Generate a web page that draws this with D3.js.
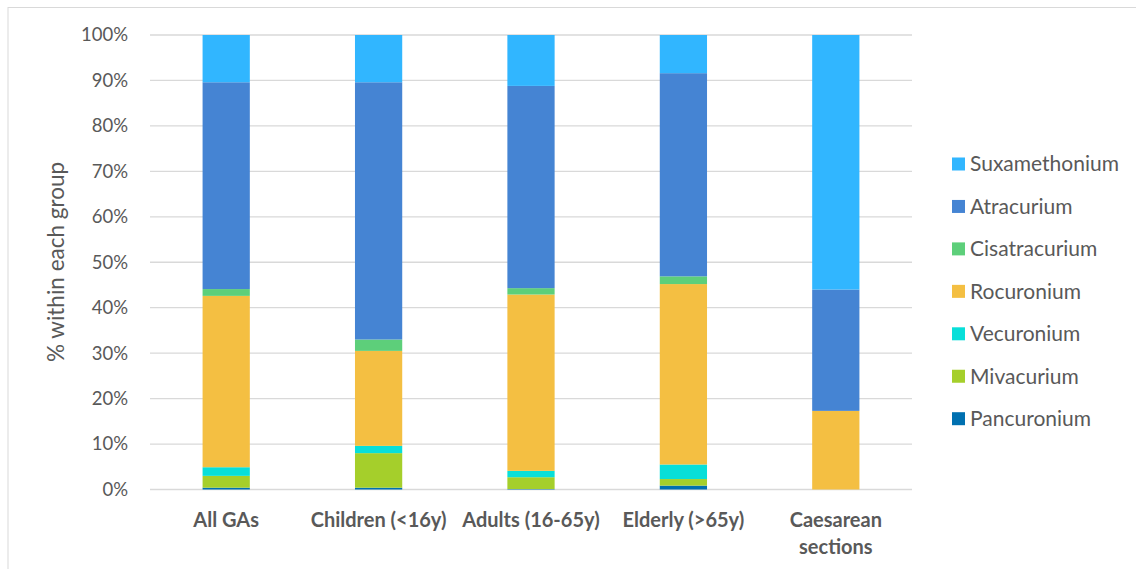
<!DOCTYPE html>
<html>
<head>
<meta charset="utf-8">
<script src="https://cdn.jsdelivr.net/npm/d3@7"></script>
<style>
  html, body { margin: 0; padding: 0; background: #fff; }
  svg { display: block; font-family: Lato, "Open Sans", sans-serif; }
</style>
</head>
<body>
<svg id="chart" width="1136" height="569"></svg>
<script>
const categories = ["All GAs", "Children (<16y)", "Adults (16-65y)", "Elderly (>65y)", "Caesarean sections"];
const seriesNames = ["Pancuronium", "Mivacurium", "Vecuronium", "Rocuronium", "Cisatracurium", "Atracurium", "Suxamethonium"];
const pancuronium   = [0.4, 0.4, 0.1, 0.85, 0];
const mivacurium    = [2.6, 7.6, 2.6, 1.45, 0];
const vecuronium    = [1.9, 1.6, 1.4, 3.2, 0];
const rocuronium    = [37.7, 20.9, 38.8, 39.7, 17.3];
const cisatracurium = [1.5, 2.5, 1.4, 1.7, 0];
const atracurium    = [45.5, 56.6, 44.5, 44.7, 26.7];
const suxamethonium = [10.4, 10.4, 11.2, 8.4, 56.0];
const yTicks = [0, 10, 20, 30, 40, 50, 60, 70, 80, 90, 100];
const colors = ["#0070B0", "#A5CF2B", "#08DFD9", "#F4BF42", "#5DCF7A", "#4584D3", "#31B6FF"];

const seriesValues = [pancuronium, mivacurium, vecuronium, rocuronium, cisatracurium, atracurium, suxamethonium];
const rows = categories.map((c, i) => {
  const r = { cat: c };
  let total = 0;
  seriesNames.forEach((s, j) => { total += seriesValues[j][i]; });
  seriesNames.forEach((s, j) => { r[s] = seriesValues[j][i] / total * 100; });
  return r;
});

const svg = d3.select("#chart");
const margin = { left: 150, right: 224, top: 35, bottom: 79.5 };
const W = 1136, H = 569;

// outer chart border
svg.append("rect").attr("x", 8).attr("y", 7.5).attr("width", 1140).attr("height", 600)
  .attr("fill", "none").attr("stroke", "#d9d9d9").attr("stroke-width", 1);

const x = d3.scaleBand().domain(categories).range([margin.left, W - margin.right]).paddingInner(0.69).paddingOuter(0.345);
const y = d3.scaleLinear().domain([0, 100]).range([H - margin.bottom, margin.top]);

// gridlines
svg.append("g").selectAll("line").data(yTicks).join("line")
  .attr("x1", margin.left).attr("x2", W - margin.right)
  .attr("y1", d => y(d)).attr("y2", d => y(d))
  .attr("stroke", "#d9d9d9").attr("stroke-width", 1.3);

// y axis labels
const yAxis = d3.axisLeft(y).tickValues(yTicks).tickFormat(d => d + "%").tickSize(0).tickPadding(22);
const gy = svg.append("g").attr("transform", `translate(${margin.left},0)`).call(yAxis);
gy.select(".domain").remove();
gy.selectAll("text").attr("fill", "#595959").style("font-size", "18.5px").style("font-family", "Lato, 'Open Sans', sans-serif");

// stacks
const stack = d3.stack().keys(seriesNames);
const stacked = stack(rows);
svg.append("g").selectAll("g").data(stacked).join("g")
  .attr("fill", (d, i) => colors[i])
  .selectAll("rect").data(d => d.filter(p => p[1] - p[0] > 0)).join("rect")
  .attr("x", d => x(d.data.cat))
  .attr("width", x.bandwidth())
  .attr("y", d => y(d[1]))
  .attr("height", d => y(d[0]) - y(d[1]));

// x labels
const xl = svg.append("g");
categories.forEach(c => {
  let lines = [c];
  if (c === "Caesarean sections") lines = ["Caesarean", "sections"];
  const t = xl.append("text").attr("x", x(c) + x.bandwidth() / 2).attr("y", 527)
    .attr("text-anchor", "middle").attr("fill", "#595959")
    .style("font-size", "20px").style("font-weight", "bold");
  lines.forEach((l, i) => t.append("tspan").attr("x", x(c) + x.bandwidth() / 2).attr("dy", i === 0 ? 0 : 27).text(l));
});

// y axis title
svg.append("text").attr("transform", "translate(64,262) rotate(-90)")
  .attr("text-anchor", "middle").attr("fill", "#595959").style("font-size", "22.5px")
  .text("% within each group");

// legend
const legendOrder = seriesNames.slice().reverse();
const lg = svg.append("g");
legendOrder.forEach((s, i) => {
  const cy = 164 + i * 42.45;
  lg.append("rect").attr("x", 952).attr("y", cy - 6.5).attr("width", 13).attr("height", 13)
    .attr("fill", colors[seriesNames.indexOf(s)]);
  lg.append("text").attr("x", 970).attr("y", cy).attr("dy", "0.35em")
    .attr("fill", "#595959").style("font-size", "21px").text(s);
});
</script>
</body>
</html>
